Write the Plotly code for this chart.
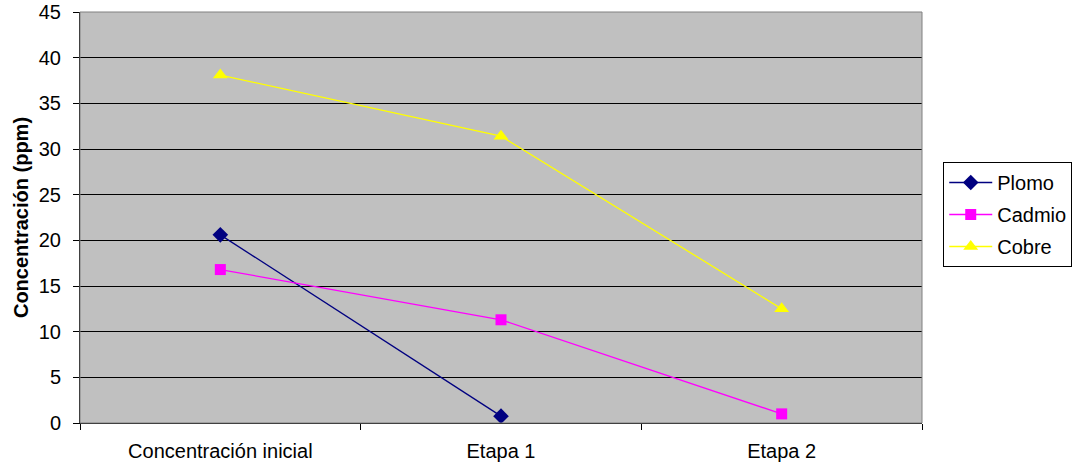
import plotly.graph_objects as go

categories = ["Concentración inicial", "Etapa 1", "Etapa 2"]
plomo = [20.6, 0.75, None]
cadmio = [16.8, 11.3, 1.0]
cobre = [38.1, 31.4, 12.5]

fig = go.Figure()
fig.add_trace(go.Scatter(x=categories, y=plomo, name="Plomo", mode="lines+markers",
                         legendgroup="a",
                         line=dict(color="#000080", width=1.3),
                         marker=dict(symbol="diamond", size=12, color="#000080")))
fig.add_trace(go.Scatter(x=categories, y=cadmio, name="Cadmio", mode="lines+markers",
                         legendgroup="b",
                         line=dict(color="#FF00FF", width=1.3),
                         marker=dict(symbol="square", size=11, color="#FF00FF")))
fig.add_trace(go.Scatter(x=categories, y=cobre, name="Cobre", mode="lines+markers",
                         legendgroup="c",
                         line=dict(color="#FFFF00", width=1.3),
                         marker=dict(symbol="triangle-up", size=13, color="#FFFF00")))

fig.update_layout(
    width=1083, height=467,
    margin=dict(l=80, r=160, t=12, b=44),
    paper_bgcolor="white",
    plot_bgcolor="#C0C0C0",
    font=dict(family="Liberation Sans, Arial", size=20, color="black"),
    showlegend=True,
    legend=dict(x=1.024, y=0.635, xanchor="left", yanchor="top",
                bordercolor="black", borderwidth=1, bgcolor="white",
                font=dict(size=20), tracegroupgap=3, itemwidth=43),
    xaxis=dict(type="category", range=[-0.5, 2.5], showgrid=False,
               ticks="outside", ticklen=6, tickcolor="black",
               showline=True, linecolor="black", linewidth=1,
               tickson="boundaries", automargin=False, ticklabelstandoff=10),
    yaxis=dict(range=[0, 45], dtick=5, showgrid=True, gridcolor="black", gridwidth=1,
               ticks="outside", ticklen=6, tickcolor="black",
               showline=True, linecolor="black", linewidth=1, zeroline=False,
               automargin=False, ticklabelstandoff=8,
               title=dict(text="<b>Concentración (ppm)</b>", standoff=4,
                          font=dict(size=20))),
)
fig.add_shape(type="rect", xref="paper", yref="paper", x0=0, y0=0, x1=1, y1=1,
              line=dict(color="#808080", width=1))
fig.write_html("out.html", config={"displayModeBar": False},
               post_script="document.body.style.margin='0';document.body.style.overflow='hidden';")
